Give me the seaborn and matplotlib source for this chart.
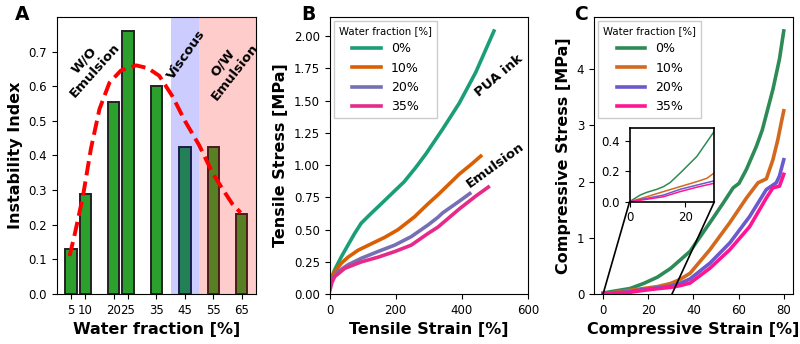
import numpy as np
import pandas as pd
import matplotlib
matplotlib.use("Agg")
import matplotlib.pyplot as plt
from matplotlib.patches import ConnectionPatch
import seaborn as sns

# ---------------- data ----------------
# Panel A
water_frac = [5, 10, 20, 25, 35, 45, 55, 65]
instability = [0.13, 0.29, 0.555, 0.76, 0.60, 0.425, 0.425, 0.23]
trend_x = [4.5, 6.5, 9.2, 12.0, 15.0, 18.5, 22.5, 27.9, 32.0, 36.0, 40.7, 45.0, 50.0, 54.7, 58.5, 61.7, 64.6]
trend_y = [0.11, 0.18, 0.283, 0.42, 0.534, 0.61, 0.645, 0.66, 0.652, 0.63, 0.57, 0.50, 0.43, 0.35, 0.30, 0.26, 0.235]

series_labels = ["0%", "10%", "20%", "35%"]

# Panel B (tensile)
b_strain = {
    "0%":  [0, 8, 15.6, 35.6, 55.5, 75.6, 95.6, 126, 156, 196.5, 225, 260, 292, 342, 392, 442, 497],
    "10%": [0, 7, 15.6, 35.6, 55.5, 86, 126, 166.5, 207, 257, 297.5, 327.7, 392, 430, 457],
    "20%": [0, 5.4, 25.6, 55.5, 96, 146, 197, 247, 297.5, 327.7, 342, 392, 424],
    "35%": [0, 7, 15.6, 46, 96, 146, 197, 247, 297.5, 327.7, 392, 442, 480],
}
b_stress = {
    "0%":  [0.07, 0.14, 0.19, 0.29, 0.38, 0.47, 0.55, 0.627, 0.70, 0.80, 0.87, 0.98, 1.09, 1.28, 1.48, 1.72, 2.04],
    "10%": [0.07, 0.13, 0.175, 0.24, 0.286, 0.34, 0.39, 0.44, 0.50, 0.60, 0.70, 0.77, 0.93, 1.01, 1.07],
    "20%": [0.06, 0.11, 0.175, 0.227, 0.278, 0.33, 0.38, 0.446, 0.536, 0.596, 0.63, 0.72, 0.78],
    "35%": [0.02, 0.09, 0.136, 0.20, 0.25, 0.286, 0.33, 0.38, 0.47, 0.52, 0.66, 0.76, 0.83],
}

# Panel C (compressive)
c_strain = {
    "0%":  [0, 6, 12, 18, 24, 30, 38.5, 47.3, 53.2, 57.6, 60.2, 63.5, 67.9, 70.5, 75.2, 78.1, 80],
    "10%": [0, 12, 18, 24, 30, 34, 38.5, 47.3, 56.1, 63.5, 68.6, 72.3, 75.2, 77.4, 78.9, 80],
    "20%": [0, 12, 18, 24, 30, 34, 38.5, 47.3, 56.1, 64.9, 72.3, 76.7, 78.1, 80],
    "35%": [0, 12, 18, 24, 30, 34, 38.5, 47.3, 56.1, 64.9, 72.3, 75.2, 78.1, 80],
}
c_stress = {
    "0%":  [0.02, 0.06, 0.10, 0.19, 0.30, 0.46, 0.76, 1.27, 1.62, 1.89, 1.97, 2.22, 2.63, 2.92, 3.64, 4.18, 4.68],
    "10%": [0.0, 0.067, 0.10, 0.133, 0.19, 0.26, 0.37, 0.79, 1.27, 1.71, 1.98, 2.05, 2.39, 2.75, 3.05, 3.26],
    "20%": [0.0, 0.044, 0.082, 0.11, 0.14, 0.19, 0.27, 0.55, 0.91, 1.38, 1.86, 1.98, 2.10, 2.39],
    "35%": [0.0, 0.033, 0.067, 0.096, 0.12, 0.15, 0.196, 0.46, 0.79, 1.20, 1.71, 1.89, 1.92, 2.13],
}
# Inset of panel C (0-30 % strain)
inset_strain = {
    "0%":  [0, 3.8, 6.2, 9.8, 12.2, 14.6, 18.2, 24.2, 30.4],
    "10%": [0, 6.2, 12.2, 18.2, 24.2, 27.8, 30.4],
    "20%": [0, 6.2, 12.2, 18.2, 24.2, 30.4],
    "35%": [0, 6.2, 12.2, 18.2, 24.2, 30.4],
}
inset_stress = {
    "0%":  [0, 0.044, 0.062, 0.082, 0.10, 0.127, 0.19, 0.30, 0.465],
    "10%": [0, 0.033, 0.067, 0.10, 0.133, 0.155, 0.19],
    "20%": [0, 0.022, 0.044, 0.082, 0.11, 0.138],
    "35%": [0, 0.016, 0.033, 0.067, 0.096, 0.122],
}

# ---------------- styling ----------------
colors_b = ["#1b9e77", "#d95f02", "#7570b3", "#e7298a"]
colors_c = ["#2e8b57", "#d2691e", "#6a5acd", "#ff1493"]

plt.rcParams["font.family"] = ["DejaVu Sans"]
TICK_FS = 8.5
LAB_FS = 11.5
ANN_FS = 9.5

fig = plt.figure(figsize=(8.0, 3.44), dpi=100)
bot, top = 0.145, 0.951
axA = fig.add_axes([0.071, bot, 0.320 - 0.071, top - bot])
axB = fig.add_axes([0.412, bot, 0.660 - 0.412, top - bot])
axC = fig.add_axes([0.7425, bot, 0.991 - 0.7425, top - bot])

# ---------------- Panel A ----------------
dfA = pd.DataFrame({"water": water_frac, "instab": instability})
sns.barplot(data=dfA, x="water", y="instab", native_scale=True, color="#2ca02c",
            saturation=1, edgecolor="#222222", linewidth=1.4, ax=axA, zorder=1)
axA.axvspan(40, 50, color="blue", alpha=0.2, lw=0, zorder=3)
axA.axvspan(50, 70, color="red", alpha=0.2, lw=0, zorder=3)
sns.lineplot(x=trend_x, y=trend_y, color="red", lw=2.8, linestyle="--", ax=axA, zorder=4)
axA.set_xlim(0, 70)
axA.set_ylim(0, 0.80)
axA.set_xticks(water_frac)
axA.set_xticklabels([str(v) for v in water_frac])
axA.set_yticks(np.arange(0, 0.71, 0.1))
axA.set_yticklabels([f"{v:.1f}" for v in np.arange(0, 0.71, 0.1)])
axA.set_xlabel("Water fraction [%]", fontsize=LAB_FS, fontweight="bold")
axA.set_ylabel("Instability Index", fontsize=LAB_FS, fontweight="bold")
axA.text(11.5, 0.66, "W/O\nEmulsion", rotation=48, ha="center", va="center",
         fontsize=ANN_FS, fontweight="bold", rotation_mode="anchor", zorder=5)
axA.text(45.5, 0.69, "Viscous", rotation=55, ha="center", va="center",
         fontsize=ANN_FS, fontweight="bold", rotation_mode="anchor", zorder=5)
axA.text(60.5, 0.655, "O/W\nEmulsion", rotation=52, ha="center", va="center",
         fontsize=ANN_FS, fontweight="bold", rotation_mode="anchor", zorder=5)

# ---------------- Panel B ----------------
for lab, col in zip(series_labels, colors_b):
    sns.lineplot(x=b_strain[lab], y=b_stress[lab], color=col, lw=2.6, label=lab,
                 ax=axB, sort=False, estimator=None)
axB.set_xlim(0, 600)
axB.set_ylim(0, 2.15)
axB.set_xticks([0, 200, 400, 600])
axB.set_yticks(np.arange(0, 2.01, 0.25))
axB.set_yticklabels([f"{v:.2f}" for v in np.arange(0, 2.01, 0.25)])
axB.set_xlabel("Tensile Strain [%]", fontsize=LAB_FS, fontweight="bold")
axB.set_ylabel("Tensile Stress [MPa]", fontsize=LAB_FS, fontweight="bold")
axB.text(512, 1.69, "PUA ink", rotation=40, ha="center", va="center",
         fontsize=ANN_FS, fontweight="bold", rotation_mode="anchor")
axB.text(500, 1.0, "Emulsion", rotation=36, ha="center", va="center",
         fontsize=ANN_FS, fontweight="bold", rotation_mode="anchor")
legkw = dict(title="Water fraction [%]", loc="upper left", fontsize=9, title_fontsize=7.3,
             handlelength=2.3, fancybox=False, edgecolor="#cccccc", framealpha=1,
             borderaxespad=0.35, labelspacing=0.5)
axB.legend(**legkw)

# ---------------- Panel C ----------------
for lab, col in zip(series_labels, colors_c):
    sns.lineplot(x=c_strain[lab], y=c_stress[lab], color=col, lw=2.6, label=lab,
                 ax=axC, sort=False, estimator=None)
axC.set_xlim(-4, 84)
axC.set_ylim(0, 4.93)
axC.set_xticks([0, 20, 40, 60, 80])
axC.set_yticks([0, 1, 2, 3, 4])
axC.set_xlabel("Compressive Strain [%]", fontsize=LAB_FS, fontweight="bold")
axC.set_ylabel("Compressive Stress [MPa]", fontsize=LAB_FS, fontweight="bold")
axC.legend(**legkw)

axIn = fig.add_axes([0.787, 0.4137, 0.106, 0.215])
for lab, col in zip(series_labels, colors_c):
    sns.lineplot(x=inset_strain[lab], y=inset_stress[lab], color=col, lw=1.1,
                 ax=axIn, sort=False, estimator=None, legend=False)
axIn.set_xlim(0, 30.5)
axIn.set_ylim(0, 0.49)
axIn.set_xticks([0, 20])
axIn.set_yticks([0.0, 0.2, 0.4])
axIn.set_yticklabels(["0.0", "0.2", "0.4"])
axIn.set_xlabel("")
axIn.set_ylabel("")
axIn.tick_params(labelsize=TICK_FS)
for s in axIn.spines.values():
    s.set_linewidth(1.2)

for xa, xb in [((0, 0), (0, 0)), ((1, 0), (30.5, 0))]:
    con = ConnectionPatch(xyA=xa, coordsA=axIn.transAxes, xyB=xb, coordsB=axC.transData,
                          color="black", lw=1.2)
    fig.add_artist(con)

for ax in (axA, axB, axC):
    ax.tick_params(labelsize=TICK_FS)

fig.text(0.019, 0.985, "A", fontsize=13.5, fontweight="bold", va="top", ha="left")
fig.text(0.377, 0.985, "B", fontsize=13.5, fontweight="bold", va="top", ha="left")
fig.text(0.718, 0.985, "C", fontsize=13.5, fontweight="bold", va="top", ha="left")

fig.savefig("out.png", dpi=100)
